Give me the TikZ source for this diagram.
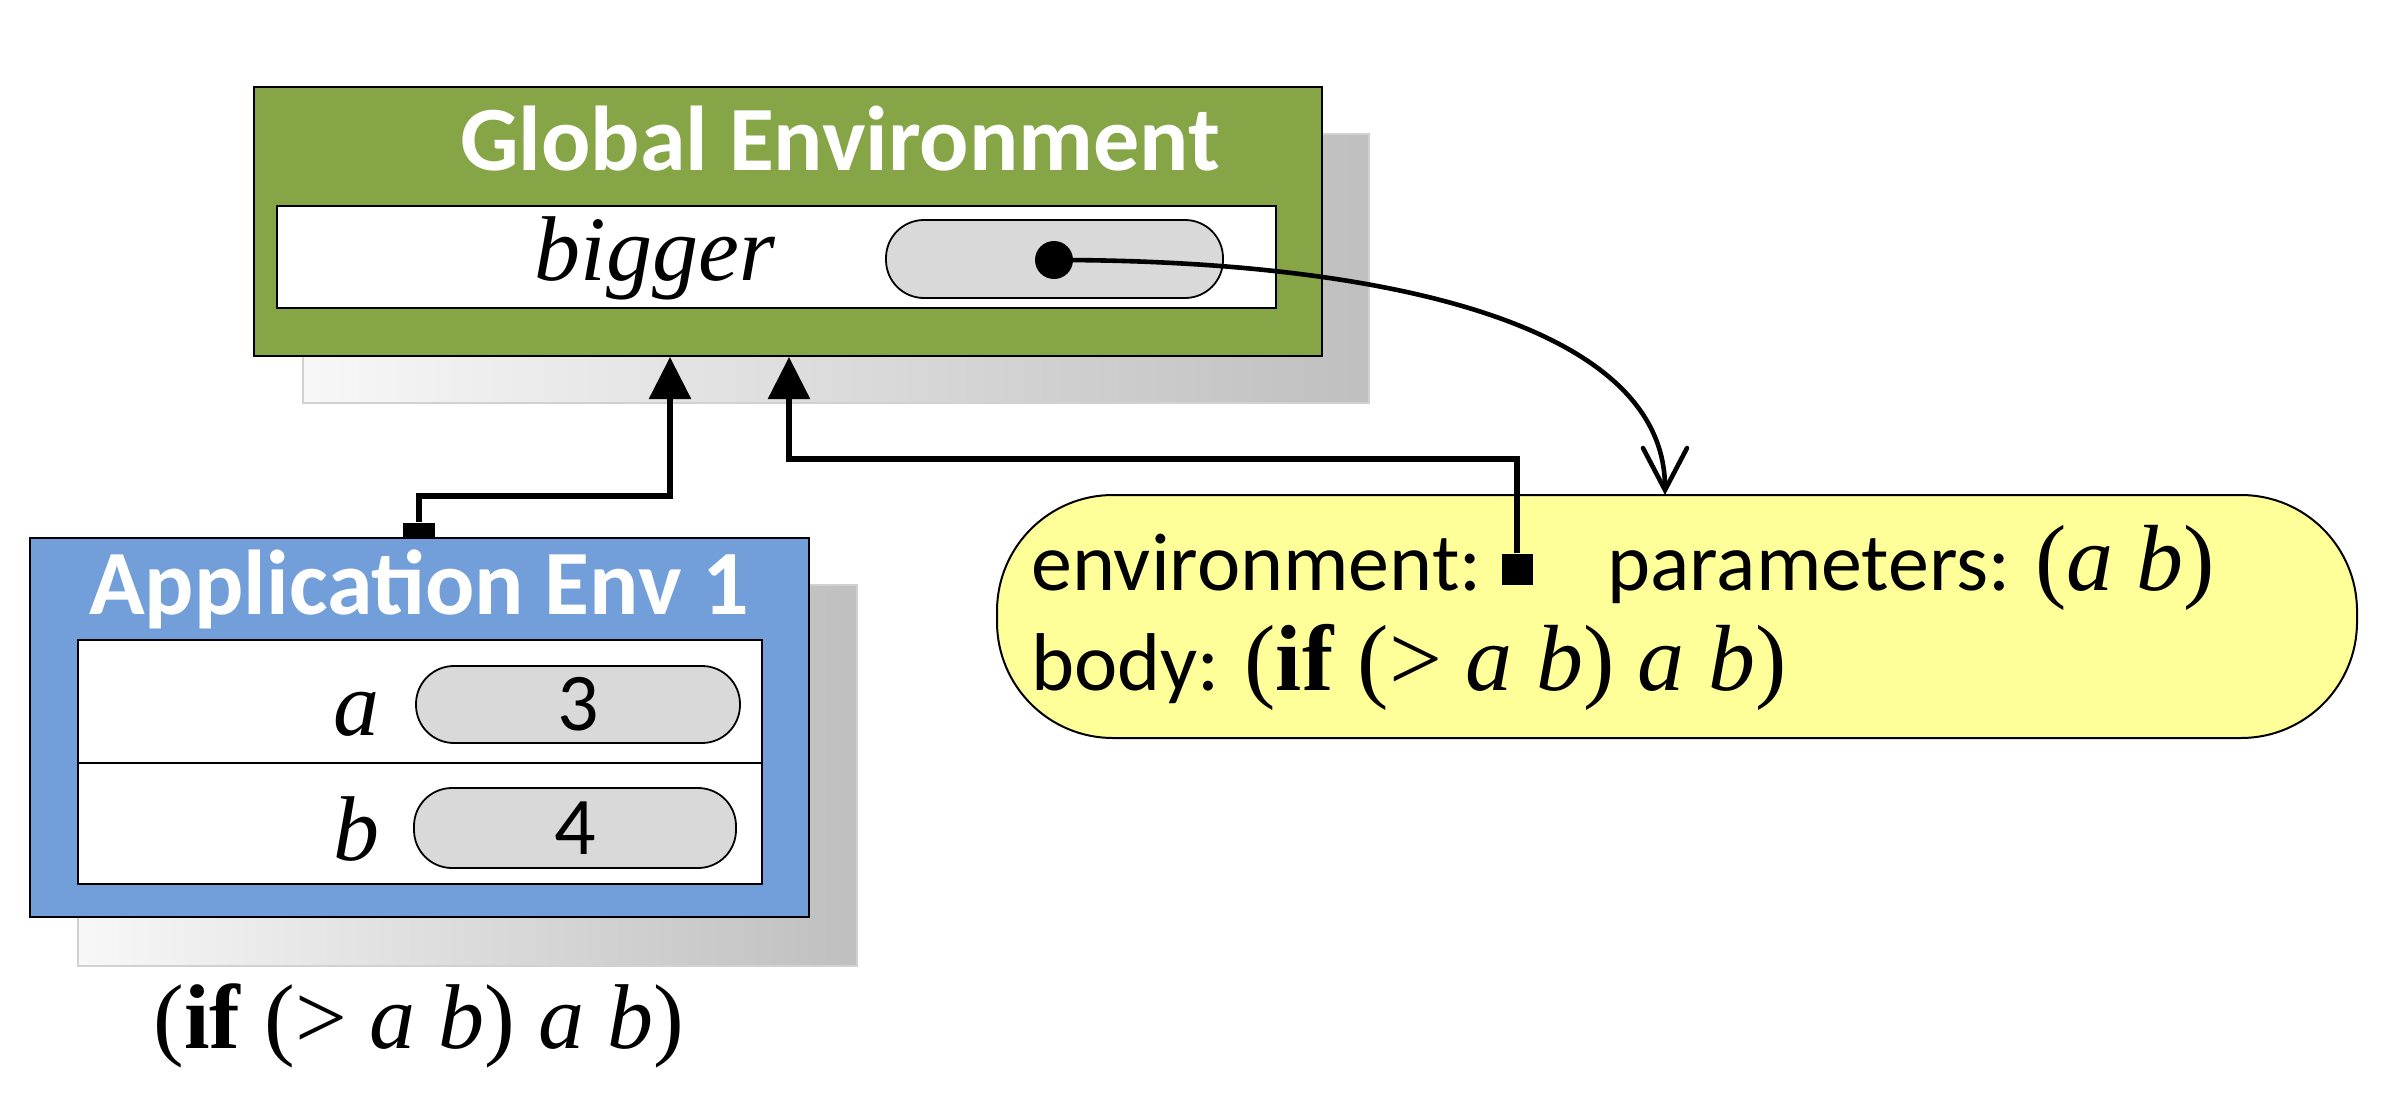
\documentclass[tikz,border=0pt]{standalone}
\usepackage{fontspec}
\setmainfont{Liberation Serif}
\newfontfamily\calfont{Carlito}
\usetikzlibrary{arrows.meta,fit}
\definecolor{envgreen}{RGB}{134,165,70}
\definecolor{envblue}{RGB}{114,158,218}
\definecolor{closyellow}{RGB}{255,255,153}
\definecolor{pillgray}{RGB}{217,217,217}
\newcommand{\bodyexpr}{{\rmfamily\fontsize{47}{52}\selectfont(\textbf{if} (> \textit{a b}) \textit{a b})}}
\begin{document}
\begin{tikzpicture}[x=0.5pt,y=-0.5pt,
  shadowbox/.style={left color=black!3, right color=black!25, draw=black!18, line width=1pt, inner sep=0pt},
  envbox/.style={draw=black, line width=1pt, inner sep=0pt},
  framebox/.style={draw=black, fill=white, line width=1.2pt, inner sep=0pt},
  pill/.style={draw=black, fill=pillgray, line width=0.9pt, rounded corners=19pt, inner sep=0pt},
  closbox/.style={draw=black, fill=closyellow, line width=1pt, rounded corners=58pt, inner sep=0pt},
  titletext/.style={text=white, font=\calfont\bfseries\fontsize{46}{52}\selectfont, inner sep=0pt},
  serif/.style={font=\rmfamily\fontsize{46}{52}\selectfont, inner sep=0pt},
  sans/.style={font=\calfont\fontsize{41}{48}\selectfont, inner sep=0pt},
  marker/.style={fill=black, inner sep=0pt},
  link/.style={line width=2.9pt, -{Triangle[length=21pt,width=20.5pt]}},
  ptr/.style={line width=2.3pt, line cap=round, -{Straight Barb[length=21pt,width=22pt,line cap=round]}}
]
\useasboundingbox (0,0) rectangle (2388,1113);

% ---------- Global environment ----------
\node[shadowbox, fit={(303,134) (1369,403)}] (geShadow) {};
\node[envbox, fill=envgreen, fit={(254,87) (1322,356)}] (ge) {};
\node[titletext, anchor=base] (geTitle) at (840,170) {Global Environment};
\node[framebox, fit={(277,206) (1276,308)}] (geFrame) {};
\node[serif, anchor=base] (bigger) at (655,280) {\itshape bigger};
\node[pill, fit={(886,220) (1223,298)}] (gePill) {};
\node[circle, fill=black, inner sep=0pt, minimum size=19pt] (dot) at (1054,260) {};

% ---------- Application environment ----------
\node[shadowbox, fit={(78,585) (857,966)}] (aeShadow) {};
\node[envbox, fill=envblue, fit={(30,538) (809,917)}] (ae) {};
\node[titletext, anchor=base] (aeTitle) at (419,614) {Application Env 1};
\node[framebox, fit={(78,640) (762,884)}] (aeFrame) {};
\coordinate (divY) at (0,763);
\draw[line width=1.2pt] (aeFrame.west |- divY) -- (aeFrame.east |- divY);
\node[serif, anchor=base east] (varA) at (380,735) {\itshape a};
\node[serif, anchor=base east] (varB) at (380,860) {\itshape b};
\node[pill, fit={(416,666) (740,743)}] (pillA) {};
\node[pill, fit={(414,788) (736,868)}] (pillB) {};
\node[sans] at (pillA.center) {3};
\node[sans] at (pillB.center) {4};

% ---------- Closure ----------
\node[closbox, fit={(997,495) (2357,738)}] (clos) {};
\node[sans, anchor=base west] (envLbl) at (1031,590) {environment:};
\node[sans, anchor=base west] (parLbl) at (1607,590) {parameters: {\rmfamily\fontsize{47}{52}\selectfont(\textit{a b})}};
\node[sans, anchor=base west] (bodyLbl) at (1031,690) {body: \bodyexpr};

% ---------- Markers ----------
\node[marker, minimum width=16pt, minimum height=7.5pt, anchor=south] (sqA) at (419,538) {};
\node[marker, minimum width=15.5pt, minimum height=15.5pt] (sqB) at (1517,569) {};

% ---------- Connectors ----------
\coordinate (kA) at (670,496);
\coordinate (kB) at (789,459);
\draw[link] (sqA.north) |- (kA) -- (kA |- ge.south);
\draw[link] (sqB.north) |- (kB) -- (kB |- ge.south);
\coordinate (ctip) at (1665,495);
\draw[ptr] (dot.center) .. controls (1371,260) and (1665,320) .. (ctip);

% ---------- Caption ----------
\node[serif, anchor=base] (caption) at (419,1048) {(\textbf{if} (> \textit{a b}) \textit{a b})};
\end{tikzpicture}
\end{document}
